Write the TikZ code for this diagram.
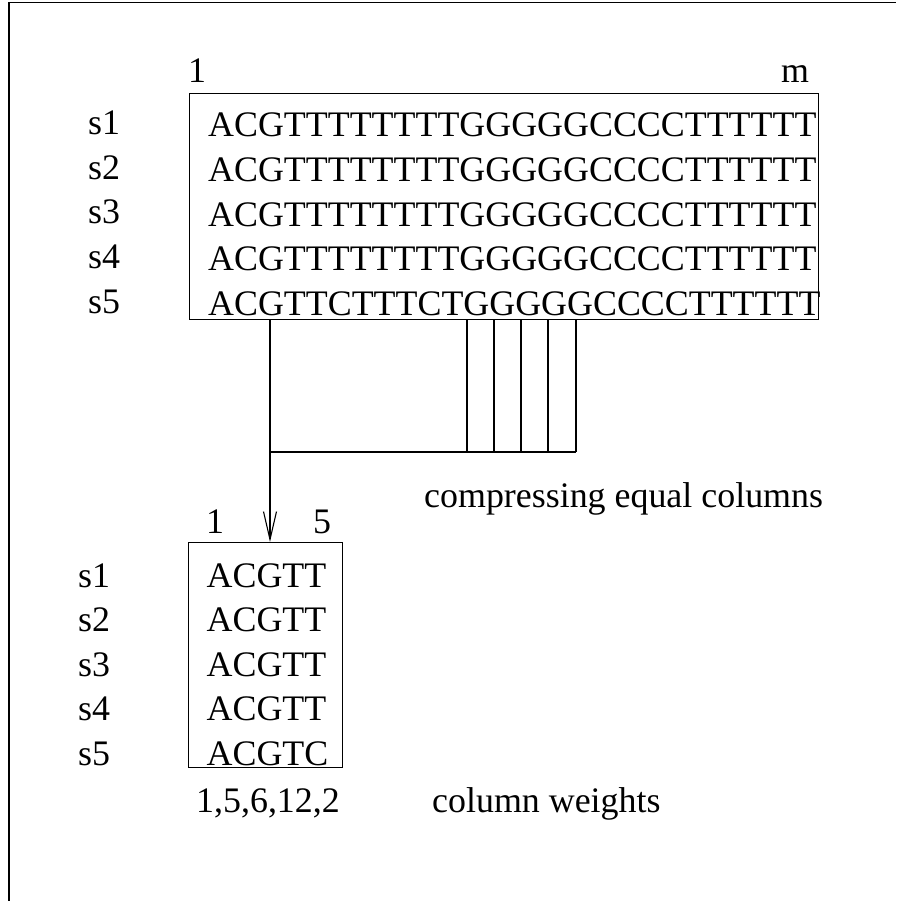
\documentclass[tikz,border=0pt]{standalone}
\usepackage{fontspec}
\setmainfont{Liberation Serif}
\usetikzlibrary{arrows.meta}
\begin{document}
\begin{tikzpicture}[x=1pt,y=-1pt,
  txt/.style={inner sep=0pt, anchor=base west, font=\fontsize{35.9}{40}\selectfont},
  wire/.style={line width=1.1pt},
  boxed/.style={draw, line width=1.1pt, inner sep=0pt, anchor=north west}]
\useasboundingbox (0,0) rectangle (896,901);
% partial frame
\draw[wire] (9,901) -- (9,2.5) -- (896,2.5);

% full alignment
\node[boxed, minimum width=629pt, minimum height=226pt] (big) at (189,93) {};
\node[txt] (bigfirst) at (188,83) {1};
\node[txt] (biglast) at (781,83) {m};
\foreach \i/\seq in {1/ACGTTTTTTTTGGGGGCCCCTTTTTT, 2/ACGTTTTTTTTGGGGGCCCCTTTTTT,
    3/ACGTTTTTTTTGGGGGCCCCTTTTTT, 4/ACGTTTTTTTTGGGGGCCCCTTTTTT,
    5/ACGTTCTTTCTGGGGGCCCCTTTTTT} {
  \node[txt] (blab\i) at (88,{135+44.5*(\i-1)}) {s\i};
  \node[txt] (brow\i) at (208,{137+44.5*(\i-1)}) {\seq};
}

% compressed alignment
\node[boxed, minimum width=154pt, minimum height=225pt] (small) at (188,542) {};
\node[txt] (smallfirst) at (206,533) {1};
\node[txt] (smalllast) at (313,533) {5};
\foreach \i/\seq in {1/ACGTT, 2/ACGTT, 3/ACGTT, 4/ACGTT, 5/ACGTC} {
  \node[txt] (slab\i) at (78,{587+44.5*(\i-1)}) {s\i};
  \node[txt] (srow\i) at (206.5,{587+44.5*(\i-1)}) {\seq};
}
\node[txt] (weights) at (196,812) {1,5,6,12,2};
\node[txt] (weightlab) at (432,812) {column weights};
\node[txt] (compress) at (424,507) {compressing equal columns};

% column taps under the full alignment
\foreach \n/\x in {0/270, 1/467, 2/494, 3/521, 4/548, 5/576} {
  \coordinate (tap\n) at (\x,319);
  \coordinate (join\n) at (\x,452);
  \draw[wire] (tap\n) -- (join\n);
}
\draw[wire] (join0) -- (join5);
\draw[wire, -{Straight Barb[length=28pt, width=13pt]}] (join0) -- (join0 |- small.north);
\end{tikzpicture}
\end{document}
